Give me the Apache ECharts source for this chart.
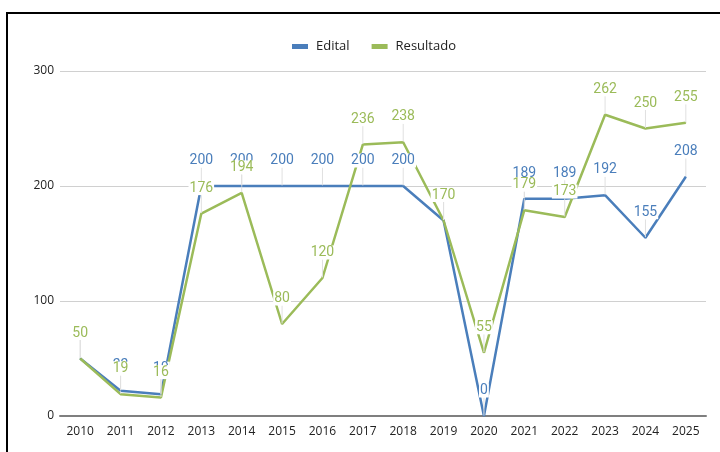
<!DOCTYPE html>
<html>
<head>
<meta charset="utf-8">
<script src="https://cdn.jsdelivr.net/npm/echarts@6/dist/echarts.min.js"></script>
<style>
  html, body { margin: 0; padding: 0; background: #fff; }
  .frame {
    position: absolute;
    left: 6px;
    top: 12px;
    width: 800px;
    height: 500px;
    border: 2px solid #000;
    box-sizing: border-box;
  }
  #chart { position: absolute; left: 0; top: 0; width: 720px; height: 452px; }
</style>
</head>
<body>
<div class="frame"></div>
<div id="chart"></div>
<script>
  var years = ['2010', '2011', '2012', '2013', '2014', '2015', '2016', '2017',
    '2018', '2019', '2020', '2021', '2022', '2023', '2024', '2025']
  var edital = [50, 22, 19, 200, 200, 200, 200, 200, 200, 170, 0, 189, 189, 192, 155, 208]
  var resultado = [50, 19, 16, 176, 194, 80, 120, 236, 238, 170, 55, 179, 173, 262, 250, 255]

  var blue = '#4A7EBB'
  var green = '#9BBB59'

  function lineSeries(name, data, color) {
    return {
      name: name,
      type: 'line',
      data: data,
      symbol: 'circle',
      symbolSize: 1,
      lineStyle: { color: color, width: 2.5 },
      itemStyle: { color: color },
      label: {
        show: true,
        position: 'top',
        distance: 2,
        color: color,
        fontSize: 14,
        fontFamily: 'Roboto',
        backgroundColor: '#fff',
        padding: [0, 1],
      },
      labelLayout: { dy: -16 },
      labelLine: { show: true, lineStyle: { color: '#e0e0e0', width: 1 } },
    }
  }

  var chart = echarts.init(document.getElementById('chart'))
  chart.setOption({
    animation: false,
    legend: {
      top: 35,
      left: 287,
      itemWidth: 16,
      itemHeight: 5,
      itemGap: 22,
      textStyle: { fontFamily: 'Open Sans', fontSize: 13, color: '#222', padding: [0, 0, 0, 3] },
      data: [
        { name: 'Edital', icon: 'rect' },
        { name: 'Resultado', icon: 'rect' },
      ],
    },
    grid: { left: 60, right: 14, top: 71, bottom: 36 },
    xAxis: {
      type: 'category',
      data: years,
      boundaryGap: true,
      axisTick: { show: false },
      axisLine: { lineStyle: { color: '#7f7f7f', width: 2 } },
      axisLabel: { color: '#222', fontSize: 12, fontFamily: 'Open Sans', margin: 10 },
    },
    yAxis: {
      type: 'value',
      min: 0,
      max: 300,
      interval: 100,
      axisLine: { show: false },
      axisTick: { show: false },
      splitLine: { lineStyle: { color: '#d0d0d0' } },
      axisLabel: { color: '#222', fontSize: 12, fontFamily: 'Open Sans', margin: 6 },
    },
    series: [
      lineSeries('Edital', edital, blue),
      lineSeries('Resultado', resultado, green),
    ],
  })
</script>
</body>
</html>
